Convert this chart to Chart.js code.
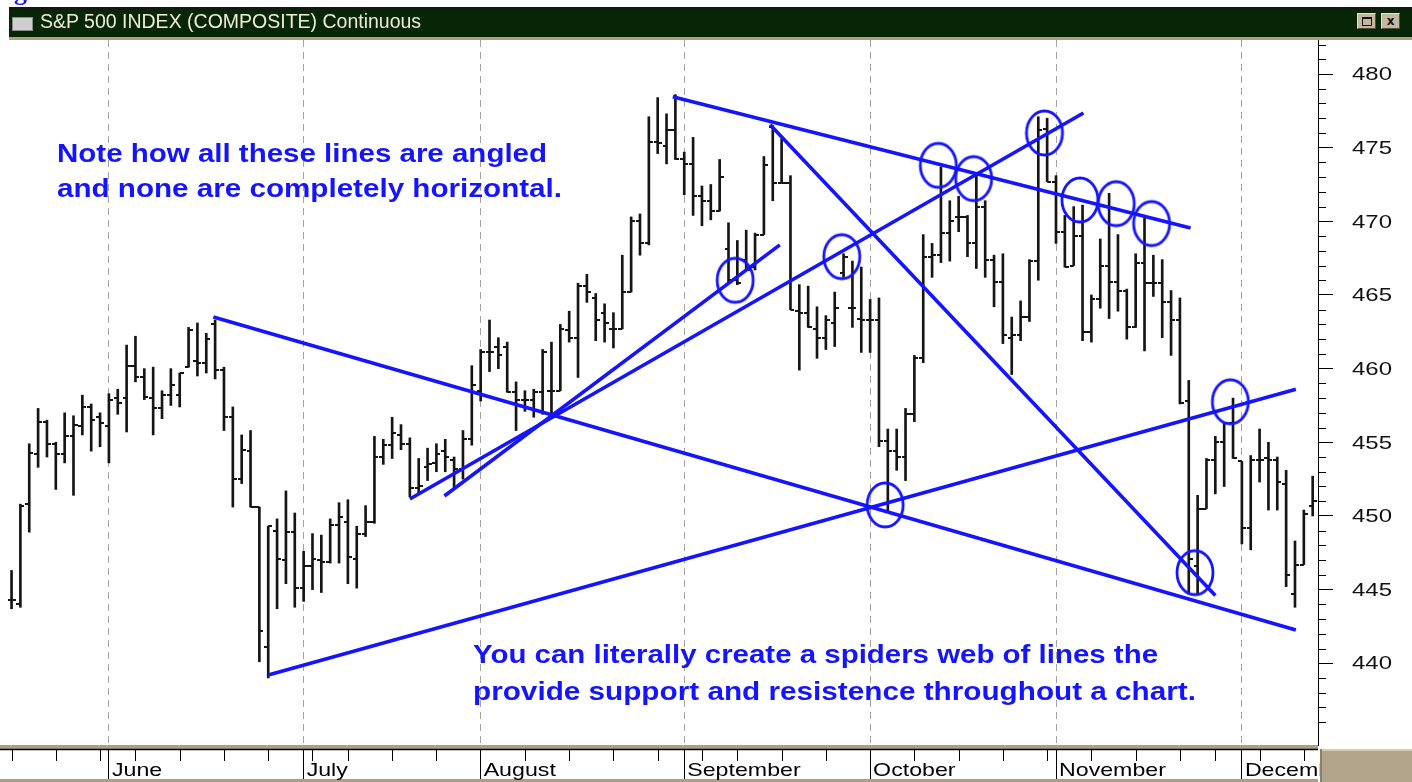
<!DOCTYPE html>
<html>
<head>
<meta charset="utf-8">
<title>S&amp;P 500 INDEX (COMPOSITE) Continuous</title>
<script src="https://cdn.jsdelivr.net/npm/chart.js@4.4.1/dist/chart.umd.min.js"></script>
<style>
  html, body { margin: 0; padding: 0; background: #fff; overflow: hidden; }
  #wrap { position: relative; width: 1412px; height: 782px; }
  #chart { position: absolute; left: 0; top: 0; }
  #frag { position: absolute; left: 14px; top: -21px; font: bold 26px "Liberation Serif", serif; color: #1a1ae6; line-height: 26px; }
  #titlebar { position: absolute; left: 9px; top: 7px; width: 1403px; height: 27px; background: #062606; border-top: 3px solid #161616; border-bottom: 3px solid #ad9f86; }
  #titlebar .icon { position: absolute; left: 3px; top: 7px; width: 19px; height: 12px; background: #cfcfcf; border: 1px solid #8a8a8a; }
  #titletext { position: absolute; left: 31px; top: 0; line-height: 27px; font: 19.5px "Liberation Sans", Arial, sans-serif; color: #eeedd2; white-space: nowrap; transform-origin: left center; }
  .btn { position: absolute; top: 3px; width: 17px; height: 14px; background: #c3b79f; border: 1px solid; border-color: #ece2cc #574d3d #574d3d #ece2cc; font: bold 12px "DejaVu Sans", sans-serif; color: #111; text-align: center; line-height: 14px; }
  .btn .sq { display: inline-block; width: 8px; height: 6px; border: 1px solid #111; border-top-width: 2px; margin-top: 3px; }
</style>
</head>
<body>
<div id="wrap">
  <canvas id="chart" width="1412" height="782"></canvas>
  <div id="frag">g</div>
  <div id="titlebar">
    <div class="icon"></div>
    <span id="titletext">S&amp;P 500 INDEX (COMPOSITE) Continuous</span>
    <div class="btn" style="left:1348px"><span class="sq"></span></div>
    <div class="btn" style="left:1372px">x</div>
  </div>
</div>
<script>
// daily bars, index 0 = late May
const opens = [444.3, 444.0, 450.8, 454.2, 456.4, 454.9, 454.2, 455.4, 456.1, 457.4,
  456.7, 456.1, 458.0, 458.0, 460.2, 459.4, 458.0, 457.3, 458.2, 458.2,
  460.1, 460.5, 460.4, 463.0, 459.9, 456.7, 452.5, 454.4, 450.6, 441.1,
  449.0, 447.0, 448.9, 445.1, 446.6, 447.0, 446.9, 449.4, 449.6, 447.1,
  448.8, 449.6, 454.0, 454.8, 455.5, 454.9, 451.9, 453.3, 453.6, 454.4,
  453.8, 453.2, 455.2, 458.5, 461.1, 461.5, 461.5, 458.4, 457.9, 457.9,
  458.4, 458.5, 458.5, 462.6, 462.1, 465.6, 464.8, 463.8, 462.7, 462.7,
  465.2, 470.0, 468.5, 475.4, 475.1, 476.2, 474.2, 473.9, 471.7, 471.4,
  470.7, 468.1, 466.0, 467.4, 466.9, 469.1, 476.4, 472.6, 472.6, 463.9,
  463.8, 462.7, 462.1, 463.1, 466.5, 464.1, 463.4, 463.3, 463.3, 455.1,
  454.4, 454.0, 456.9, 460.7, 467.6, 467.7, 469.2, 470.3, 470.3, 468.5,
  471.0, 467.4, 465.9, 462.1, 462.3, 463.5, 467.3, 476.3, 472.7, 469.3,
  467.0, 469.0, 462.5, 464.7, 467.0, 465.9, 465.3, 462.8, 467.2, 465.8,
  465.8, 464.5, 463.3, 457.8, 446.6, 450.5, 453.8, 455.0, 456.3, 453.7,
  449.2, 453.8, 453.9, 453.8, 452.2, 444.7, 446.7, 450.7];
const highs = [446.3, 450.8, 454.9, 457.3, 456.5, 455.0, 457.0, 456.8, 458.2, 457.6,
  457.0, 458.3, 458.6, 461.6, 462.2, 460.0, 460.1, 458.5, 460.0, 459.7,
  462.8, 463.1, 462.4, 463.3, 460.1, 457.4, 455.5, 455.8, 450.6, 449.3,
  449.8, 451.7, 450.2, 447.6, 448.8, 448.7, 449.8, 450.9, 451.1, 449.3,
  450.7, 455.4, 455.2, 456.7, 456.2, 455.3, 453.9, 454.6, 454.9, 455.2,
  454.0, 455.8, 460.2, 461.3, 463.3, 462.1, 461.8, 459.1, 458.5, 458.6,
  461.3, 461.8, 463.0, 463.9, 465.8, 466.4, 465.1, 464.4, 463.8, 467.7,
  470.3, 470.5, 477.1, 478.4, 477.3, 478.6, 474.7, 475.7, 472.4, 472.5,
  474.2, 469.9, 468.7, 469.4, 469.2, 474.4, 476.5, 475.6, 473.1, 465.7,
  465.6, 464.2, 463.6, 465.2, 467.8, 467.3, 466.9, 464.7, 464.8, 455.9,
  455.9, 457.3, 460.9, 469.1, 468.5, 473.7, 471.4, 471.7, 470.4, 473.3,
  471.4, 467.7, 467.8, 463.5, 464.6, 467.4, 477.1, 477.0, 473.1, 470.4,
  471.0, 471.1, 465.0, 468.8, 471.9, 469.1, 465.4, 467.8, 470.2, 467.7,
  467.4, 465.3, 464.8, 459.2, 451.4, 453.9, 455.4, 456.3, 458.0, 453.7,
  454.1, 455.9, 455.0, 454.0, 453.1, 448.3, 450.4, 452.7];
const lows = [443.7, 443.8, 448.9, 453.3, 454.0, 451.8, 453.6, 451.4, 455.5, 454.4,
  454.7, 453.6, 456.9, 455.7, 459.1, 457.9, 455.5, 456.6, 457.5, 457.4,
  460.1, 459.5, 459.7, 459.3, 455.8, 450.6, 452.2, 450.6, 440.1, 439.0,
  443.7, 445.4, 443.8, 444.2, 445.0, 444.8, 446.8, 446.8, 445.4, 445.1,
  448.6, 449.5, 453.5, 453.9, 454.5, 451.3, 451.5, 452.4, 453.0, 453.0,
  451.9, 452.5, 454.8, 457.8, 459.8, 460.0, 458.4, 455.8, 457.1, 456.7,
  456.9, 456.9, 458.5, 461.8, 459.4, 464.5, 461.9, 461.8, 461.4, 462.7,
  465.2, 467.7, 468.4, 474.6, 473.9, 474.2, 471.8, 470.4, 469.7, 470.1,
  470.7, 465.8, 465.7, 466.7, 466.7, 469.1, 471.4, 472.6, 464.0, 459.9,
  462.8, 460.7, 461.3, 461.5, 466.2, 462.8, 461.1, 461.1, 454.7, 450.3,
  453.1, 452.4, 456.4, 460.4, 466.2, 467.2, 467.3, 469.3, 467.6, 466.8,
  466.2, 464.2, 461.7, 459.6, 461.9, 463.2, 466.0, 472.7, 468.5, 466.9,
  467.0, 461.9, 461.8, 464.1, 463.4, 463.9, 462.0, 462.8, 461.2, 464.9,
  462.1, 460.9, 457.6, 444.7, 444.7, 450.5, 451.5, 452.0, 453.9, 448.1,
  447.7, 452.3, 450.4, 450.4, 445.2, 443.8, 446.7, 450.0];
const closes = [444.3, 450.7, 454.3, 456.4, 454.9, 454.2, 455.4, 456.2, 457.4, 456.5,
  456.3, 457.9, 457.7, 460.2, 459.4, 458.1, 457.3, 458.2, 458.9, 459.7,
  462.6, 460.4, 462.0, 459.9, 456.7, 452.5, 454.5, 450.6, 442.2, 449.3,
  447.1, 448.9, 445.1, 446.6, 447.1, 446.9, 449.4, 449.9, 447.2, 448.8,
  449.6, 454.0, 454.8, 455.6, 454.9, 451.9, 452.0, 453.5, 454.2, 454.0,
  453.2, 455.2, 458.9, 461.1, 461.1, 460.9, 458.4, 457.9, 457.9, 458.4,
  461.1, 458.5, 462.7, 462.1, 465.6, 465.2, 463.3, 463.1, 462.7, 465.2,
  470.0, 468.5, 475.4, 475.3, 476.2, 474.2, 473.9, 471.7, 471.4, 470.7,
  473.0, 466.0, 465.8, 466.7, 469.1, 473.8, 472.6, 472.6, 464.0, 463.8,
  462.8, 462.1, 463.3, 464.1, 467.6, 464.1, 463.3, 463.3, 455.1, 454.4,
  454.0, 456.9, 460.7, 467.6, 467.7, 469.2, 470.0, 470.3, 468.5, 471.0,
  467.4, 465.9, 462.3, 462.3, 463.5, 467.3, 476.2, 472.7, 469.3, 466.9,
  469.0, 462.5, 464.7, 467.0, 465.9, 465.3, 462.8, 467.2, 465.8, 465.8,
  464.5, 463.3, 457.7, 447.1, 450.5, 453.8, 455.0, 456.3, 453.9, 449.2,
  453.8, 453.8, 453.8, 452.3, 446.0, 446.7, 450.1, 451.0];

// x axis: first bar of each month, and weekly tick marks
const monthStarts = [11, 33, 53, 76, 97, 118, 139];
const monthNames = ['June', 'July', 'August', 'September', 'October', 'November', 'December'];
const weekTicks = [0, 5, 10, 14, 19, 24, 29, 34, 38, 43, 48, 58, 63, 68, 73, 78, 82, 87, 92,
  102, 107, 112, 117, 122, 127, 132, 136, 141, 146];

// y axis labels
const priceLabels = [440, 445, 450, 455, 460, 465, 470, 475, 480];

// hand drawn trend lines [barFrom, priceFrom, barTo, priceTo]
const trendLines = [
  [22.8, 463.5, 145.1, 442.25],
  [29.0, 439.2, 145.1, 458.6],
  [74.7, 478.45, 133.2, 469.55],
  [85.7, 476.55, 136.0, 444.6],
  [45.0, 451.15, 121.1, 477.35],
  [48.9, 451.35, 86.8, 468.4]
];

// circled touches
const circleBars = [81.75, 93.8, 104.7, 108.7, 116.7, 120.7, 124.8, 128.8, 98.7, 133.7, 137.7];
const circlePrices = [466.0, 467.6, 473.8, 472.9, 476.0, 471.45, 471.2, 469.85, 450.75, 446.15, 457.75];

const noteLines = ['Note how all these lines are angled', 'and none are completely horizontal.'];
const tipLines = ['You can literally create a spiders web of lines the',
  'provide support and resistence throughout a chart.'];

const BLUE = '#1414ff';
const INK = '#151515';

function tickImage(side) {
  const c = document.createElement('canvas');
  c.width = 8; c.height = 2;
  const g = c.getContext('2d');
  g.fillStyle = INK;
  g.fillRect(side < 0 ? 0 : 4, 0, 4, 2);
  return c;
}

function ellipseImage() {
  const c = document.createElement('canvas');
  c.width = 42; c.height = 50;
  const g = c.getContext('2d');
  g.strokeStyle = BLUE;
  g.lineWidth = 2.8;
  g.beginPath();
  g.ellipse(21, 25, 18, 22, 0, 0, Math.PI * 2);
  g.stroke();
  return c;
}

function stretchText(ctx, str, x, y, width) {
  const w = ctx.measureText(str).width;
  ctx.save();
  ctx.translate(x, y);
  ctx.scale(width / w, 1);
  ctx.fillText(str, 0, 0);
  ctx.restore();
}

const decor = {
  id: 'decor',
  afterDraw(chart) {
    const ctx = chart.ctx;
    const xs = chart.scales.x;
    const ys = chart.scales.y;
    const area = chart.chartArea;

    // annotations
    ctx.save();
    ctx.fillStyle = BLUE;
    ctx.font = 'bold 25px "Liberation Sans", Arial, sans-serif';
    ctx.textBaseline = 'alphabetic';
    stretchText(ctx, noteLines[0], 57, 162, 490);
    stretchText(ctx, noteLines[1], 57, 197, 505);
    stretchText(ctx, tipLines[0], 473, 663, 685);
    stretchText(ctx, tipLines[1], 473, 700, 723);
    ctx.restore();

    // x axis band
    ctx.save();
    const top = area.bottom;
    ctx.fillStyle = '#ad9f86';
    ctx.fillRect(0, top, area.right, 4);
    ctx.fillRect(0, 779, area.right, 3);
    ctx.strokeStyle = '#000';
    ctx.lineWidth = 1.5;
    ctx.beginPath();
    ctx.moveTo(0, top + 4.5);
    ctx.lineTo(area.right, top + 4.5);
    ctx.stroke();
    ctx.lineWidth = 1;
    ctx.beginPath();
    weekTicks.forEach(v => {
      const px = Math.round(xs.getPixelForValue(v)) + 0.5;
      ctx.moveTo(px, top + 5);
      ctx.lineTo(px, top + 16);
    });
    ctx.stroke();

    // month labels, wide like the original screen font
    ctx.fillStyle = '#000';
    ctx.font = '19px "Liberation Sans", Arial, sans-serif';
    ctx.textBaseline = 'alphabetic';
    xs.ticks.forEach((t, i) => {
      const name = monthNames[i];
      const w = ctx.measureText(name).width * 1.22;
      stretchText(ctx, name, xs.getPixelForValue(t.value) + 3, 776, w);
    });

    // minor y ticks
    ctx.beginPath();
    for (let v = Math.ceil(ys.min); v <= ys.max; v++) {
      if (v % 5 === 0) continue;
      const py = Math.round(ys.getPixelForValue(v)) + 0.5;
      ctx.moveTo(area.right, py);
      ctx.lineTo(area.right + 8, py);
    }
    ctx.stroke();

    // y labels
    ctx.fillStyle = '#111';
    ctx.font = '19px "Liberation Sans", Arial, sans-serif';
    ctx.textBaseline = 'middle';
    priceLabels.forEach(v => {
      stretchText(ctx, String(v), 1352, ys.getPixelForValue(v) + 1, 40);
    });

    // bottom right box
    ctx.fillStyle = '#b3a58c';
    ctx.fillRect(area.right + 2, top + 4, 1412 - area.right - 2, 782 - top - 4);
    ctx.fillStyle = '#8c7f68';
    ctx.fillRect(area.right + 2, top + 4, 2, 782 - top - 4);
    ctx.fillStyle = '#d6cab2';
    ctx.fillRect(area.right + 4, top + 4, 1412 - area.right - 4, 2);
    ctx.restore();
  }
};

const barIdx = highs.map((_, i) => i);

new Chart(document.getElementById('chart'), {
  type: 'bar',
  data: {
    datasets: [
      {
        type: 'scatter',
        data: circleBars.map((b, i) => ({ x: b, y: circlePrices[i] })),
        pointStyle: ellipseImage(),
        pointRadius: 20,
        order: 0
      },
      ...trendLines.map(t => ({
        type: 'line',
        data: [{ x: t[0], y: t[1] }, { x: t[2], y: t[3] }],
        borderColor: BLUE,
        borderWidth: 3.6,
        pointRadius: 0,
        fill: false,
        tension: 0,
        order: 1
      })),
      {
        type: 'scatter',
        data: barIdx.map(i => ({ x: i, y: opens[i] })),
        pointStyle: tickImage(-1),
        pointRadius: 3,
        order: 2
      },
      {
        type: 'scatter',
        data: barIdx.map(i => ({ x: i, y: closes[i] })),
        pointStyle: tickImage(1),
        pointRadius: 3,
        order: 2
      },
      {
        type: 'bar',
        data: barIdx.map(i => ({ x: i, y: [lows[i], highs[i]] })),
        backgroundColor: INK,
        borderWidth: 0,
        barThickness: 2,
        grouped: false,
        order: 3
      }
    ]
  },
  options: {
    responsive: false,
    animation: false,
    events: [],
    layout: { autoPadding: false, padding: { top: 40, left: 8, right: 0, bottom: 0 } },
    plugins: { legend: { display: false }, tooltip: { enabled: false } },
    scales: {
      x: {
        type: 'linear',
        min: -0.4,
        max: 147.6,
        offset: false,
        afterBuildTicks: s => { s.ticks = monthStarts.map(v => ({ value: v })); },
        afterFit: s => { s.height = 37; s.paddingLeft = 0; s.paddingRight = 0; },
        ticks: { display: false },
        grid: {
          offset: false,
          color: '#a3a3a3',
          lineWidth: 1,
          drawTicks: true,
          tickLength: 37,
          tickColor: '#000',
          tickWidth: 1,
          tickBorderDash: []
        },
        border: { display: false, dash: [7, 5] }
      },
      y: {
        position: 'right',
        min: 434.45,
        max: 482.31,
        afterBuildTicks: s => { s.ticks = priceLabels.map(v => ({ value: v })); },
        afterFit: s => { s.width = 94; s.paddingTop = 0; s.paddingBottom = 0; },
        ticks: { display: false },
        grid: { drawOnChartArea: false, drawTicks: true, tickLength: 15, tickColor: '#000', tickWidth: 1 },
        border: { display: true, color: '#000', width: 1 }
      }
    }
  },
  plugins: [decor]
});

const tt = document.getElementById('titletext');
tt.style.transform = 'scaleX(' + (381 / tt.offsetWidth) + ')';
</script>
</body>
</html>
